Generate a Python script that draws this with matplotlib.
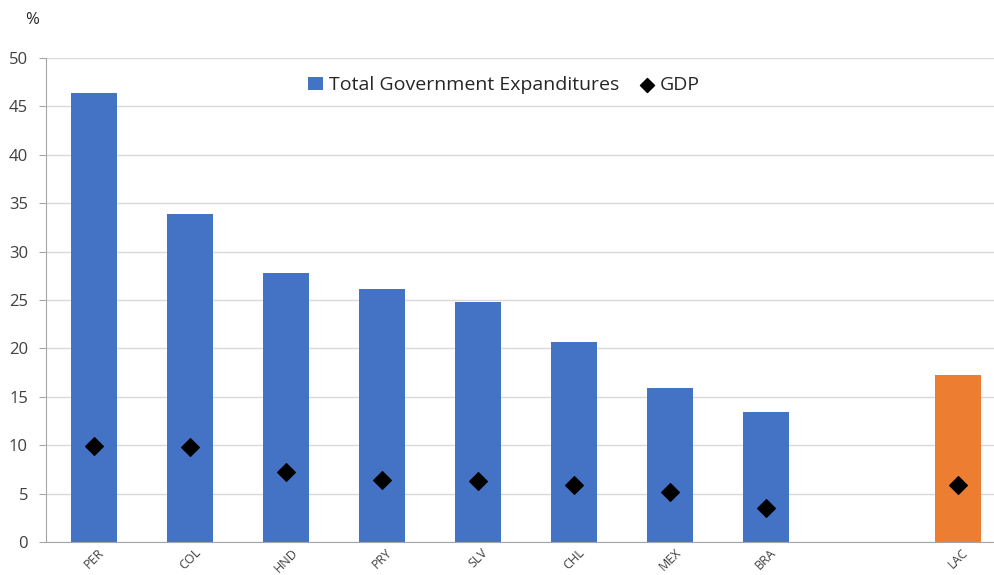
import numpy as np
import matplotlib.pyplot as plt

# Data; the empty slot keeps the gap before LAC.
countries = ['PER', 'COL', 'HND', 'PRY', 'SLV', 'CHL', 'MEX', 'BRA', '', 'LAC']
expenditures = [46.4, 33.9, 27.8, 26.1, 24.8, 20.7, 15.9, 13.4, np.nan, 17.3]
gdp = [9.9, 9.8, 7.2, 6.4, 6.3, 5.9, 5.2, 3.5, np.nan, 5.9]
bar_colors = ['#4472C4'] * 9 + ['#ED7D31']

plt.rcParams['font.family'] = ['Open Sans', 'DejaVu Sans']

fig = plt.figure(figsize=(9.94, 5.75), dpi=100)
ax = fig.add_axes([46 / 994, 33 / 575, 948 / 994, 484 / 575])

x = np.arange(len(countries))
bars = ax.bar(x, expenditures, width=0.47, color=bar_colors, zorder=2,
              label='Total Government Expanditures')
pts = ax.scatter(x, gdp, marker='D', s=80, color='black', zorder=3, label='GDP')

ax.set_ylim(0, 50)
ax.set_xlim(-0.5, 9.375)
ax.set_yticks(np.arange(0, 51, 5))
ax.set_xticks(x)
ax.set_xticklabels(countries, rotation=45, fontsize=9, color='#404040', ha='center')
ax.tick_params(axis='x', length=0, pad=3)
ax.tick_params(axis='y', labelsize=12, colors='#404040', length=5, width=0.8,
               direction='out', pad=8)
ax.yaxis.grid(True, color='#D9D9D9', linewidth=1)
ax.set_axisbelow(True)

for side in ['top', 'right']:
    ax.spines[side].set_visible(False)
for side in ['left', 'bottom']:
    ax.spines[side].set_color('#A6A6A6')
ax.tick_params(axis='y', color='#A6A6A6')

fig.text(25 / 994, 1 - 20 / 575, '%', fontsize=12, color='#262626', va='center')

leg = ax.legend([bars, pts], ['Total Government Expanditures', 'GDP'],
                loc='upper center', bbox_to_anchor=(0.483, 0.998), ncol=2, frameon=False,
                fontsize=14, handlelength=0.8, handletextpad=0.3, columnspacing=1.0,
                markerscale=0.8)
for t in leg.get_texts():
    t.set_color('#262626')

fig.savefig('out.png', dpi=100)
